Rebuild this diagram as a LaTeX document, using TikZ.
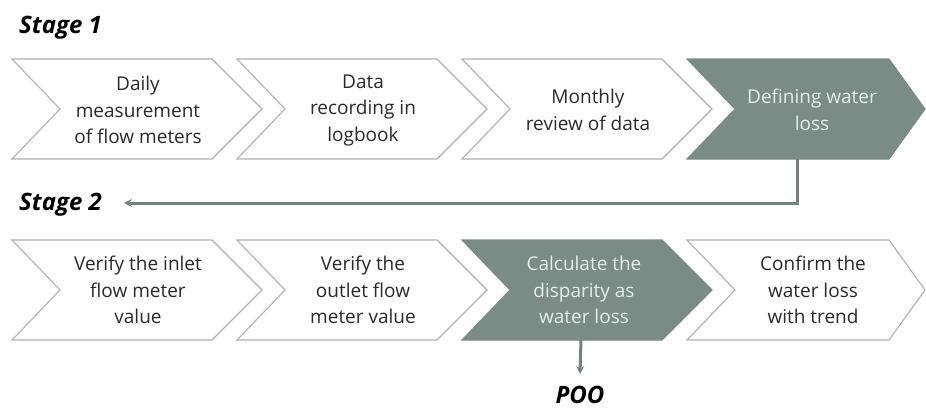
\documentclass[tikz,border=0pt]{standalone}
\usepackage{fontspec}
\setmainfont{Open Sans}
\usetikzlibrary{arrows.meta}
\definecolor{sage}{HTML}{7A8C85}
\definecolor{edgegray}{HTML}{B0B0B0}
\definecolor{txt}{HTML}{2A2A2A}
\definecolor{lighttxt}{HTML}{E8EDEA}
\definecolor{linec}{HTML}{6E867E}
\tikzset{
  chevwhite/.style={draw=edgegray, line width=1.1pt, fill=white, line join=miter},
  chevfill/.style={draw=sage, line width=1.1pt, fill=sage, line join=miter},
  steptext/.style={align=center, font=\fontsize{19}{26.5}\selectfont, text=txt, inner sep=0pt},
  steptextlight/.style={steptext, text=lighttxt},
  stagelabel/.style={font=\fontsize{24}{28}\selectfont\bfseries\itshape, text=black, inner sep=0pt},
  conn/.style={draw=linec, line width=3pt, -{Stealth[length=8pt,width=8pt]}},
}
\begin{document}
\begin{tikzpicture}[x=1pt,y=-1pt]
\useasboundingbox[fill=white] (0,0) rectangle (926,410);

% white chevrons
\foreach \L/\T in {12/59, 237/59, 462/59, 12/240, 237/240}{
  \draw[chevwhite] (\L,\T) -- ++(200,0) -- ++(50,50) -- ++(-50,50) -- ++(-200,0) -- ++(48,-50) -- cycle;
}
\draw[chevwhite] (687,240) -- (889,240) -- (925,290) -- (889,340) -- (687,340) -- (735,290) -- cycle;
% filled chevrons
\draw[chevfill] (687,59) -- (889,59) -- (925,109) -- (889,159) -- (687,159) -- (735,109) -- cycle;
\draw[chevfill] (462,240) -- (662,240) -- (712,290) -- (662,340) -- (462,340) -- (510,290) -- cycle;

% texts row 1
\node[steptext] (a1) at (138,110) {Daily\\measurement\\of flow meters};
\node[steptext] (a2) at (363,110) {Data\\recording in\\logbook};
\node[steptext] (a3) at (588,110) {Monthly\\review of data};
\node[steptextlight] (a4) at (812,110) {Defining water\\loss};
% texts row 2
\node[steptext] (b1) at (138,290) {Verify the inlet\\flow meter\\value};
\node[steptext] (b2) at (363,290) {Verify the\\outlet flow\\meter value};
\node[steptextlight] (b3) at (584,290) {Calculate the\\disparity as\\water loss};
\node[steptext] (b4) at (813,290) {Confirm the\\water loss\\with trend};

% stage labels
\node[stagelabel, anchor=west] (s1) at (19,28) {Stage 1};
\node[stagelabel, anchor=west] (s2) at (19,205) {Stage 2};
\node[stagelabel] (poo) at (580,395) {POO};

% connectors
\coordinate (a4bot) at (797,159);
\coordinate (s2tip) at (124,203);
\draw[conn] (a4bot) |- (s2tip);
\coordinate (b3bot) at (581,340);
\draw[conn] (b3bot) -- (poo.north |- 0,374);
\end{tikzpicture}
\end{document}
